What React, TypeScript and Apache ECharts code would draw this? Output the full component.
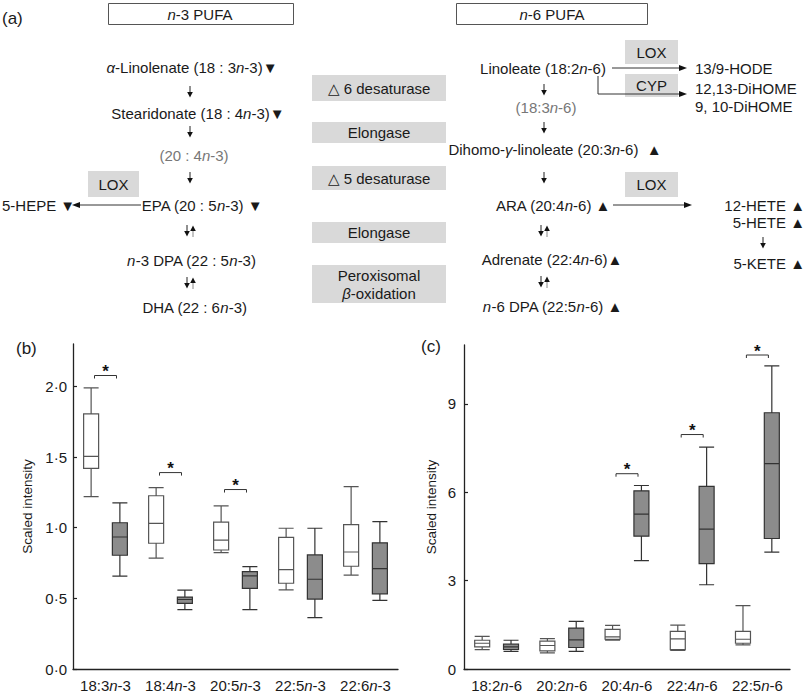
import React, { useEffect, useRef } from "react";
import * as echarts from "echarts";

const FONT = "'Liberation Sans', Arial, Helvetica, sans-serif";

// Panel (b) n-3 PUFA
const catsB = ["18:3n-3", "18:4n-3", "20:5n-3", "22:5n-3", "22:6n-3"];
// [min, Q1, median, Q3, max]
const ctrlB = [
  [1.22, 1.42, 1.505, 1.805, 1.99],
  [0.785, 0.89, 1.03, 1.226, 1.283],
  [0.823, 0.842, 0.912, 1.039, 1.154],
  [0.56, 0.607, 0.703, 0.931, 0.996],
  [0.664, 0.727, 0.828, 1.022, 1.29],
];
const caseB = [
  [0.657, 0.805, 0.934, 1.035, 1.176],
  [0.42, 0.464, 0.492, 0.509, 0.558],
  [0.42, 0.57, 0.659, 0.689, 0.725],
  [0.363, 0.495, 0.635, 0.807, 0.996],
  [0.485, 0.532, 0.71, 0.893, 1.043],
];
const sigB = [
  [0, 2.077],
  [1, 1.39],
  [2, 1.27],
];
const ticksB = [0, 0.5, 1, 1.5, 2];

// Panel (c) n-6 PUFA
const catsC = ["18:2n-6", "20:2n-6", "20:4n-6", "22:4n-6", "22:5n-6"];
const ctrlC = [
  [0.66, 0.75, 0.875, 0.976, 1.11],
  [0.55, 0.617, 0.797, 0.943, 1.03],
  [0.976, 1.01, 1.089, 1.347, 1.48],
  [0.63, 0.66, 1.02, 1.28, 1.49],
  [0.82, 0.875, 1.01, 1.28, 2.155],
];
const caseC = [
  [0.595, 0.662, 0.752, 0.842, 0.976],
  [0.595, 0.73, 0.988, 1.39, 1.616],
  [3.68, 4.51, 5.26, 6.05, 6.23],
  [2.86, 3.58, 4.75, 6.2, 7.53],
  [3.97, 4.43, 6.97, 8.7, 10.29],
];
const sigC = [
  [2, 6.63],
  [3, 7.96],
  [4, 10.66],
];
const ticksC = [0, 3, 6, 9];

const TXT = "#1a1a1a";
const ENZ = "#d9d9d9";

function txt(x: number, y: number, text: string, o: any = {}) {
  const fs = o.fs ?? 15;
  const fill = o.fill ?? TXT;
  const align = o.align ?? "center";
  return {
    type: "text",
    x,
    y,
    silent: true,
    style: {
      text,
      fontFamily: FONT,
      fontSize: fs,
      fill,
      align,
      verticalAlign: "middle",
      textAlign: align,
      textVerticalAlign: "middle",
      rich: {
        i: { fontStyle: "italic", fontFamily: FONT, fontSize: fs, fill },
      },
    },
  };
}

function rect(x: number, y: number, w: number, h: number, fill: string, stroke: string | null = null) {
  return {
    type: "rect",
    silent: true,
    shape: { x, y, width: w, height: h },
    style: { fill, stroke, lineWidth: 1 },
  };
}

function down(x: number, y: number, lineColor = "#222") {
  return [
    { type: "line", silent: true, shape: { x1: x, y1: y - 6, x2: x, y2: y + 1 }, style: { stroke: lineColor, lineWidth: 1 } },
    { type: "polygon", silent: true, shape: { points: [[x - 2.8, y], [x + 2.8, y], [x, y + 5.5]] }, style: { fill: "#111" } },
  ];
}
function up(x: number, y: number, lineColor = "#888") {
  return [
    { type: "line", silent: true, shape: { x1: x, y1: y - 1, x2: x, y2: y + 6 }, style: { stroke: lineColor, lineWidth: 1 } },
    { type: "polygon", silent: true, shape: { points: [[x - 2.8, y], [x + 2.8, y], [x, y - 5.5]] }, style: { fill: "#111" } },
  ];
}
function downUp(x: number, y: number) {
  return [...down(x - 3, y), ...up(x + 3, y)];
}
function arrowRight(x1: number, x2: number, y: number) {
  return [
    { type: "line", silent: true, shape: { x1, y1: y, x2: x2 - 7, y2: y }, style: { stroke: "#333", lineWidth: 1 } },
    { type: "polygon", silent: true, shape: { points: [[x2 - 8, y - 3], [x2 - 8, y + 3], [x2, y]] }, style: { fill: "#111" } },
  ];
}
function arrowLeft(x1: number, x2: number, y: number) {
  // from x1 (right) to x2 (left, head)
  return [
    { type: "line", silent: true, shape: { x1, y1: y, x2: x2 + 7, y2: y }, style: { stroke: "#333", lineWidth: 1 } },
    { type: "polygon", silent: true, shape: { points: [[x2 + 8, y - 3], [x2 + 8, y + 3], [x2, y]] }, style: { fill: "#111" } },
  ];
}

function buildGraphic() {
  const g: any[] = [];
  // panel letters
  g.push(txt(2, 18, "(a)", { align: "left", fs: 17 }));
  g.push(txt(16, 348, "(b)", { align: "left", fs: 17 }));
  g.push(txt(421, 346, "(c)", { align: "left", fs: 17 }));

  // headers
  g.push(rect(108.5, 3.5, 185, 21, "#fff", "#555"));
  g.push(txt(200, 14, "{i|n}-3 PUFA"));
  g.push(rect(456.5, 3.5, 191, 21, "#fff", "#555"));
  g.push(txt(552, 14, "{i|n}-6 PUFA"));

  // n-3 column
  g.push(txt(192, 67, "{i|α}-Linolenate (18 : 3{i|n}-3)▼"));
  g.push(...down(190, 92));
  g.push(txt(198, 113, "Stearidonate (18 : 4{i|n}-3)▼"));
  g.push(...down(190, 132));
  g.push(txt(194, 155, "(20 : 4{i|n}-3)", { fill: "#777" }));
  g.push(...down(190, 178));
  g.push(txt(202, 205, "EPA (20 : 5{i|n}-3) ▼"));
  g.push(...downUp(190, 231));
  g.push(txt(191.5, 260, "{i|n}-3 DPA (22 : 5{i|n}-3)"));
  g.push(...downUp(190, 283));
  g.push(txt(194.5, 307, "DHA (22 : 6{i|n}-3)"));
  g.push(rect(88, 171, 51, 26, ENZ));
  g.push(txt(113.5, 184, "LOX"));
  g.push(...arrowLeft(141, 72, 205));
  g.push(txt(2, 205, "5-HEPE ▼", { align: "left" }));

  // enzymes
  g.push(rect(312, 75, 134, 26, ENZ));
  g.push(txt(379, 88, "△ 6 desaturase"));
  g.push(rect(312, 122, 134, 21, ENZ));
  g.push(txt(379, 132.5, "Elongase"));
  g.push(rect(312, 166, 134, 24, ENZ));
  g.push(txt(379, 178, "△ 5 desaturase"));
  g.push(rect(312, 222, 134, 21, ENZ));
  g.push(txt(379, 232.5, "Elongase"));
  g.push(rect(312, 265, 134, 38, ENZ));
  g.push(txt(379, 275, "Peroxisomal"));
  g.push(txt(379, 293, "{i|β}-oxidation"));

  // n-6 column
  g.push(txt(543, 68, "Linoleate (18:2{i|n}-6)"));
  g.push(...down(544, 90));
  g.push(txt(546, 107, "(18:3{i|n}-6)", { fill: "#777" }));
  g.push(...down(544, 128));
  g.push(txt(555, 149, "Dihomo-{i|γ}-linoleate (20:3{i|n}-6)  ▲"));
  g.push(...down(544, 178));
  g.push(txt(553, 205, "ARA (20:4{i|n}-6) ▲"));
  g.push(...downUp(544, 231));
  g.push(txt(552, 259, "Adrenate (22:4{i|n}-6)▲"));
  g.push(...downUp(544, 282));
  g.push(txt(552.5, 306, "{i|n}-6 DPA (22:5{i|n}-6) ▲"));

  // right side
  g.push(rect(625, 40, 53, 24, ENZ));
  g.push(txt(651.5, 52, "LOX"));
  g.push(...arrowRight(612, 687, 68));
  g.push(rect(625, 74, 53, 23, ENZ));
  g.push(txt(651.5, 85.5, "CYP"));
  g.push({
    type: "polyline",
    silent: true,
    shape: { points: [[598, 76], [598, 94], [680, 94]] },
    style: { stroke: "#333", lineWidth: 1, fill: null },
  });
  g.push({ type: "polygon", silent: true, shape: { points: [[679, 91], [679, 97], [687, 94]] }, style: { fill: "#111" } });
  g.push(txt(695, 68, "13/9-HODE", { align: "left" }));
  g.push(txt(695, 88, "12,13-DiHOME", { align: "left" }));
  g.push(txt(695, 106, "9, 10-DiHOME", { align: "left" }));
  g.push(rect(625, 172, 53, 25, ENZ));
  g.push(txt(651.5, 184.5, "LOX"));
  g.push(...arrowRight(613, 692, 205));
  g.push(txt(805, 205, "12-HETE ▲", { align: "right" }));
  g.push(txt(805, 222, "5-HETE ▲", { align: "right" }));
  g.push(...down(763, 243));
  g.push(txt(805, 263, "5-KETE ▲", { align: "right" }));
  return g;
}

function catLabel(v: string) {
  const idx = v.indexOf("n");
  return "{a|" + v.slice(0, idx) + "}{i|n}{a|" + v.slice(idx + 1) + "}";
}

const labelRich = {
  a: { fontFamily: FONT, fontSize: 15, color: TXT },
  i: { fontFamily: FONT, fontSize: 15, color: TXT, fontStyle: "italic" },
};

function xAxis(gridIndex: number, data: string[]) {
  return {
    type: "category",
    gridIndex,
    data,
    axisLine: { lineStyle: { color: "#222", width: 1.3 } },
    axisTick: { inside: true, length: 5, alignWithLabel: true, lineStyle: { color: "#222", width: 1.2 } },
    axisLabel: { formatter: catLabel, rich: labelRich, margin: 9, interval: 0 },
    splitLine: { show: false },
  };
}

function yAxis(gridIndex: number, max: number, ticks: number[], fmt: (v: number) => string, nameGap: number, margin: number) {
  return {
    type: "value",
    gridIndex,
    min: 0,
    max,
    axisLine: { show: true, lineStyle: { color: "#222", width: 1.3 } },
    axisTick: { show: true, inside: true, length: 4, customValues: ticks, lineStyle: { color: "#222", width: 1.2 } },
    axisLabel: { customValues: ticks, formatter: fmt, fontFamily: FONT, fontSize: 15, color: TXT, margin },
    splitLine: { show: false },
    name: "Scaled intensity",
    nameLocation: "middle",
    nameRotate: 90,
    nameGap,
    nameTextStyle: { fontFamily: FONT, fontSize: 13.5, color: TXT },
  };
}

function boxSeries(name: string, data: number[][], axis: number, fill: string, border: string) {
  return {
    name,
    type: "boxplot",
    xAxisIndex: axis,
    yAxisIndex: axis,
    data,
    boxWidth: [15, 15],
    silent: true,
    itemStyle: { color: fill, borderColor: border, borderWidth: 1.2 },
    emphasis: { disabled: true },
  };
}

function sigSeries(data: number[][], axis: number) {
  return {
    type: "custom",
    xAxisIndex: axis,
    yAxisIndex: axis,
    data,
    silent: true,
    clip: false,
    renderItem: (_p: any, api: any) => {
      const c = api.coord([api.value(0), api.value(1)]);
      const h = 11;
      return {
        type: "group",
        children: [
          {
            type: "polyline",
            shape: { points: [[c[0] - h, c[1] + 3], [c[0] - h, c[1]], [c[0] + h, c[1]], [c[0] + h, c[1] + 3]] },
            style: { stroke: "#333", fill: null, lineWidth: 1 },
          },
          {
            type: "text",
            x: c[0],
            y: c[1] - 4,
            style: { text: "*", fontFamily: FONT, fontSize: 17, fontWeight: "bold", fill: "#111", align: "center", verticalAlign: "middle" },
          },
        ],
      };
    },
  };
}

export default function App() {
  const ref = useRef<HTMLDivElement>(null);
  useEffect(() => {
    if (!ref.current) return;
    const chart = echarts.init(ref.current, null, { renderer: "svg" });
    const option: any = {
      animation: false,
      backgroundColor: "#fff",
      textStyle: { fontFamily: FONT },
      grid: [
        { left: 73, top: 344, width: 325, height: 328 },
        { left: 464, top: 345, width: 326, height: 327 },
      ],
      xAxis: [xAxis(0, catsB), xAxis(1, catsC)],
      yAxis: [
        yAxis(0, 2.3, ticksB, (v: number) => v.toFixed(1).replace(".", "·"), 39, 6),
        yAxis(1, 11, ticksC, (v: number) => String(v), 26, 8),
      ],
      series: [
        boxSeries("Control n-3", ctrlB, 0, "#ffffff", "#555"),
        boxSeries("Case n-3", caseB, 0, "#8c8c8c", "#333"),
        sigSeries(sigB, 0),
        boxSeries("Control n-6", ctrlC, 1, "#ffffff", "#555"),
        boxSeries("Case n-6", caseC, 1, "#8c8c8c", "#333"),
        sigSeries(sigC, 1),
      ],
      graphic: buildGraphic(),
    };
    chart.setOption(option);
    return () => chart.dispose();
  }, []);
  return (
    <div
      ref={ref}
      style={{ position: "fixed", left: 0, top: 0, width: 810, height: 693, background: "#fff" }}
    />
  );
}
